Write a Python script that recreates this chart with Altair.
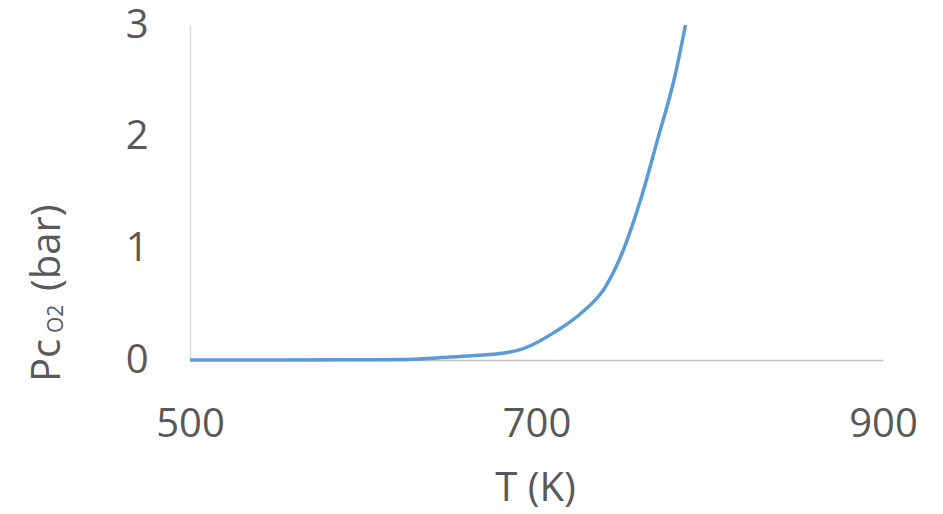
import altair as alt
import pandas as pd

temps = [500, 550, 600, 625, 650, 665, 680, 690, 700, 710, 725, 740, 750, 760, 770, 780, 786]
pressures = [0.0, 0.0, 0.002, 0.005, 0.026, 0.04, 0.06, 0.09, 0.155, 0.245, 0.41, 0.66, 0.98, 1.43, 1.98, 2.55, 3.0]
x_ticks = [500, 700, 900]
y_ticks = [0, 1, 2, 3]

df = pd.DataFrame({"T": temps, "P": pressures})

FONT = "Open Sans"
GRAY = "#595959"

line = alt.Chart(df).mark_line(color="#5B9BD5", strokeWidth=3.5, interpolate="monotone").encode(
    x=alt.X("T:Q", scale=alt.Scale(domain=[500, 900], nice=False),
            axis=alt.Axis(values=x_ticks, title="T (K)", grid=False, ticks=False, tickSize=0,
                          labelFlush=False,
                          domainColor="#BFBFBF", domainWidth=1.5,
                          labelFont=FONT, labelFontSize=40, labelColor=GRAY, labelPadding=44,
                          titleFont=FONT, titleFontSize=40, titleFontWeight="normal", titleColor=GRAY,
                          titleBaseline="alphabetic", titleY=140, titleX=345)),
    y=alt.Y("P:Q", scale=alt.Scale(domain=[0, 3], nice=False),
            axis=alt.Axis(values=y_ticks, title=None, grid=False, ticks=False, tickSize=0,
                          labelFlush=False,
                          domainColor="#D9D9D9", domainWidth=1.5,
                          labelFont=FONT, labelFontSize=40, labelColor=GRAY, labelPadding=42)),
)

pc = alt.Chart(pd.DataFrame({"t": ["Pc"]})).mark_text(angle=270, align="left", baseline="alphabetic",
                                      font=FONT, fontSize=40, color=GRAY).encode(
    text="t:N", x=alt.value(-130), y=alt.value(357))
o2 = alt.Chart(pd.DataFrame({"t": ["O2"]})).mark_text(angle=270, align="left", baseline="alphabetic",
                                      font=FONT, fontSize=21, color=GRAY).encode(
    text="t:N", x=alt.value(-127), y=alt.value(308))
bar = alt.Chart(pd.DataFrame({"t": ["(bar)"]})).mark_text(angle=270, align="left", baseline="alphabetic",
                                      font=FONT, fontSize=40, color=GRAY).encode(
    text="t:N", x=alt.value(-130), y=alt.value(266))

chart = alt.layer(line, pc, o2, bar).properties(
    width=693, height=335,
    autosize=alt.AutoSizeParams(type="none"),
    padding={"left": 190, "top": 25, "right": 60, "bottom": 154},
    background="white",
).configure_view(stroke=None)

chart.save("out.html", embed_options={"renderer": "svg", "actions": False})
